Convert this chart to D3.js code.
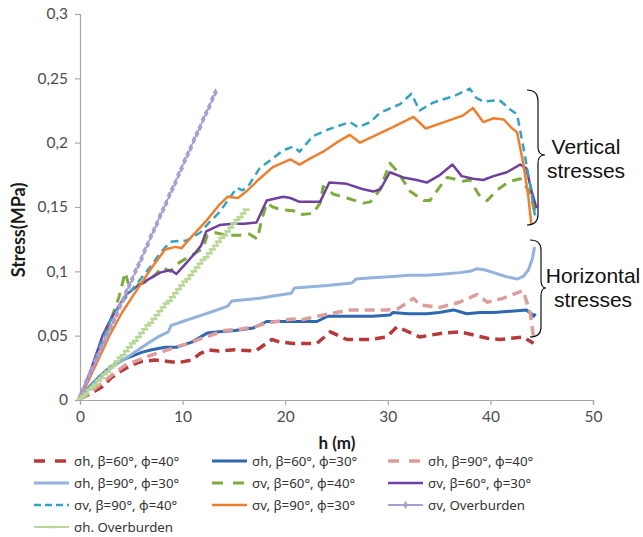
<!DOCTYPE html>
<html>
<head>
<meta charset="utf-8">
<script src="https://cdn.jsdelivr.net/npm/d3@7"></script>
<style>
  body { margin: 0; background: #fff; }
</style>
</head>
<body>
<div id="chart"></div>
<script>
// Stress vs h chart: horizontal / vertical stresses for several beta / phi cases

const hTicks = [0, 10, 20, 30, 40, 50];
const stressTicks = [0, 0.05, 0.1, 0.15, 0.2, 0.25, 0.3];

const seriesNames = [
  "σh, β=60°, ϕ=40°", "σh, β=60°, ϕ=30°", "σh, β=90°, ϕ=40°",
  "σh, β=90°, ϕ=30°", "σv, β=60°, ϕ=40°", "σv, β=60°, ϕ=30°",
  "σv, β=90°, ϕ=40°", "σv, β=90°, ϕ=30°", "σv, Overburden",
  "σh. Overburden"
];

// [h (m), stress (MPa)]
const shB60F40 = [[0,0.001],[0.8,0.004],[2.1,0.010],[3,0.017],[4.1,0.023],[5,0.027],[6,0.030],[7.3,0.031],[8.6,0.030],[9.5,0.029],[10.9,0.031],[11.7,0.036],[12.5,0.039],[13.5,0.038],[15.1,0.039],[17.1,0.038],[18.7,0.047],[19.5,0.045],[20.8,0.044],[23.1,0.044],[24.4,0.053],[26,0.047],[28.3,0.047],[29.9,0.049],[30.9,0.057],[33.1,0.049],[35.4,0.052],[37,0.053],[39.7,0.048],[40.9,0.047],[43.2,0.049],[44,0.045],[44.2,0.044]];
const shB60F30 = [[0,0.002],[1,0.011],[2,0.019],[3,0.026],[4.4,0.032],[6,0.037],[7,0.039],[8.3,0.041],[9.4,0.041],[10.9,0.045],[12.4,0.052],[13.5,0.053],[15.1,0.054],[16.9,0.056],[18.2,0.061],[20.8,0.061],[23.1,0.061],[24.1,0.065],[26.6,0.065],[28.5,0.065],[30.2,0.066],[30.5,0.068],[32,0.067],[33.8,0.067],[35,0.068],[36.4,0.070],[37.7,0.067],[39,0.068],[40.3,0.068],[42,0.069],[43.5,0.070],[44,0.067],[44.2,0.065],[44.4,0.067]];
const shB90F40 = [[0,0.001],[0.5,0.003],[2.1,0.013],[3.2,0.020],[4.4,0.027],[5.7,0.031],[7,0.035],[8.2,0.038],[9.3,0.041],[10.6,0.044],[11.9,0.048],[14.1,0.054],[15.6,0.055],[17.1,0.057],[18.3,0.060],[20.8,0.063],[21.4,0.062],[23.7,0.066],[26.3,0.070],[29.9,0.070],[31,0.071],[32.5,0.079],[33.1,0.074],[35.1,0.072],[37,0.076],[38.7,0.082],[39.7,0.076],[41.2,0.079],[43.2,0.085],[43.9,0.067],[44.2,0.049]];
const shB90F30 = [[0,0.002],[1,0.010],[2.1,0.019],[3.2,0.026],[4.4,0.032],[5.5,0.038],[6.6,0.044],[7.6,0.049],[8.6,0.053],[8.9,0.058],[10,0.061],[11.5,0.065],[13,0.069],[14.4,0.073],[14.8,0.077],[16,0.078],[17.5,0.079],[19,0.081],[20.6,0.083],[20.9,0.087],[22.5,0.088],[24.1,0.089],[26.5,0.091],[26.9,0.094],[28.5,0.095],[30.5,0.096],[32,0.097],[33.8,0.097],[35.5,0.098],[37,0.099],[38,0.100],[38.7,0.102],[39.5,0.101],[40.3,0.099],[41.5,0.096],[42.6,0.094],[43.2,0.096],[43.7,0.101],[44.1,0.110],[44.3,0.119]];
const svB60F40 = [[0,0.002],[1,0.019],[2,0.040],[3,0.062],[3.8,0.080],[4.4,0.099],[4.7,0.091],[5.5,0.089],[6.5,0.092],[7.3,0.097],[8,0.103],[8.8,0.100],[9.7,0.107],[11,0.113],[12,0.118],[12.4,0.128],[13.2,0.130],[14.3,0.128],[15.5,0.128],[16.5,0.129],[17.3,0.125],[17.7,0.140],[18.2,0.153],[18.8,0.150],[19.5,0.148],[20.8,0.147],[21.4,0.144],[22.7,0.145],[23.4,0.153],[23.7,0.166],[24.7,0.160],[26,0.157],[27.6,0.153],[28.3,0.154],[29.2,0.163],[30.2,0.184],[30.9,0.178],[32.2,0.162],[33.5,0.155],[34.1,0.155],[35.1,0.166],[35.8,0.173],[36.4,0.172],[37.3,0.170],[38,0.171],[39,0.158],[39.7,0.155],[40.6,0.163],[41.9,0.170],[42.9,0.172],[43.9,0.161],[44.2,0.150],[44.4,0.145]];
const svB60F30 = [[0,0.002],[1,0.022],[2.2,0.050],[3,0.063],[3.7,0.072],[4.5,0.082],[5.5,0.088],[6.5,0.093],[7.8,0.099],[8.8,0.101],[9.4,0.098],[10.2,0.105],[11.3,0.115],[11.8,0.120],[12.3,0.131],[13.6,0.136],[14.9,0.137],[16,0.137],[17.2,0.138],[18.2,0.155],[19.8,0.158],[20.5,0.157],[21.4,0.154],[22.5,0.154],[23.4,0.154],[24.3,0.169],[26,0.168],[27.5,0.164],[28.6,0.162],[29.3,0.164],[30.2,0.177],[31.5,0.173],[32.8,0.171],[33.8,0.169],[35.1,0.175],[36.3,0.183],[37.2,0.174],[38.3,0.172],[39.3,0.171],[40.3,0.174],[41.6,0.177],[42.9,0.183],[43.5,0.180],[44,0.163],[44.5,0.149]];
const svB90F40 = [[0,0.002],[1,0.021],[2,0.043],[3,0.062],[4,0.075],[4.6,0.081],[5.9,0.094],[7,0.105],[7.8,0.114],[8.8,0.123],[10.4,0.124],[11.7,0.130],[12.6,0.138],[13.6,0.146],[15.3,0.165],[15.8,0.163],[16.3,0.165],[17.5,0.180],[19.8,0.194],[20.8,0.197],[21.4,0.193],[22.7,0.205],[24.1,0.210],[26.3,0.216],[27.1,0.212],[28.3,0.216],[29.2,0.223],[31.2,0.230],[32.3,0.238],[33.1,0.225],[34.4,0.231],[35.1,0.233],[36.4,0.236],[38,0.242],[38.6,0.235],[39.3,0.232],[40.9,0.233],[41.9,0.226],[42.6,0.222],[43.2,0.197],[43.9,0.166],[44.3,0.145],[44.5,0.140]];
const svB90F30 = [[0,0.001],[1,0.018],[2,0.035],[3,0.052],[4.1,0.068],[5,0.079],[6,0.091],[7,0.103],[8.3,0.117],[9.3,0.119],[9.9,0.118],[11,0.128],[12.5,0.141],[13.5,0.151],[14.4,0.158],[15.4,0.157],[16.2,0.162],[17.5,0.172],[18.8,0.181],[20.5,0.187],[21.4,0.183],[22.5,0.188],[23.7,0.193],[25,0.200],[26.3,0.206],[27.3,0.200],[28.9,0.206],[30.5,0.212],[32.5,0.220],[33.7,0.211],[35.5,0.216],[37.3,0.221],[38.3,0.227],[39.3,0.216],[40.3,0.219],[41.3,0.218],[42,0.212],[42.6,0.208],[43.2,0.184],[43.7,0.158],[44,0.136]];

const hOverV = [0,0.3,0.6,0.9,1.2,1.5,1.8,2.1,2.4,2.7,3,3.3,3.6,3.9,4.2,4.5,4.8,5.1,5.4,5.7,6,6.3,6.6,6.9,7.2,7.5,7.8,8.1,8.4,8.7,9,9.3,9.6,9.9,10.2,10.5,10.8,11.1,11.4,11.7,12,12.3,12.6,12.9,13.2];
const svOver = [0.003,0.008,0.014,0.019,0.024,0.030,0.035,0.041,0.046,0.051,0.057,0.062,0.067,0.073,0.078,0.084,0.089,0.094,0.100,0.105,0.110,0.116,0.121,0.127,0.132,0.137,0.143,0.148,0.153,0.159,0.164,0.169,0.175,0.180,0.186,0.191,0.196,0.202,0.207,0.212,0.218,0.223,0.228,0.234,0.239];
const hOverH = [0,0.3,0.6,0.9,1.2,1.5,1.8,2.1,2.4,2.7,3,3.3,3.6,3.9,4.2,4.5,4.8,5.1,5.4,5.7,6,6.3,6.6,6.9,7.2,7.5,7.8,8.1,8.4,8.7,9,9.3,9.6,9.9,10.2,10.5,10.8,11.1,11.4,11.7,12,12.3,12.6,12.9,13.2,13.5,13.8,14.1,14.4,14.7,15,15.3,15.6,15.9,16.2];
const shOver = [0.001,0.003,0.005,0.008,0.010,0.012,0.015,0.017,0.020,0.022,0.025,0.027,0.030,0.033,0.035,0.038,0.041,0.044,0.046,0.049,0.052,0.055,0.058,0.060,0.063,0.066,0.069,0.072,0.075,0.077,0.080,0.083,0.086,0.089,0.092,0.094,0.097,0.100,0.103,0.106,0.109,0.111,0.114,0.117,0.120,0.123,0.126,0.128,0.131,0.134,0.137,0.140,0.142,0.145,0.148];

const seriesData = [shB60F40, shB60F30, shB90F40, shB90F30, svB60F40, svB60F30,
  svB90F40, svB90F30, d3.zip(hOverV, svOver), d3.zip(hOverH, shOver)];

// line styles, same order as seriesNames
const styles = [
  { color: "#b63a3b", width: 3.5, dash: "10,6", legDash: "11,10" },
  { color: "#2f68b0", width: 3, dash: null },
  { color: "#dd9d9b", width: 3.5, dash: "10,6", legDash: "11,10" },
  { color: "#94b3dc", width: 3, dash: null },
  { color: "#7eaa3e", width: 3, dash: "10,7", legDash: "11,10" },
  { color: "#7040a0", width: 2.5, dash: null },
  { color: "#35a2c2", width: 2.5, dash: "8,5", legDash: "7,4" },
  { color: "#ee7f2f", width: 2.5, dash: null },
  { color: "#ab9cd2", width: 1.5, dash: null, marker: "diamond" },
  { color: "#b6d894", width: 1.5, dash: null, marker: "dash" }
];

const width = 643, height = 537;
const svg = d3.select("#chart").append("svg")
  .attr("width", width).attr("height", height)
  .style("font-family", "Lato, 'Noto Sans', sans-serif");

const x = d3.scaleLinear().domain([0, 50]).range([80, 593]);
const y = d3.scaleLinear().domain([0, 0.3]).range([400, 14]);
const commaFmt = d3.formatLocale({ decimal: ",", thousands: ".", grouping: [3], currency: ["", ""] }).format("~g");

// axes
const xAxis = svg.append("g").attr("transform", `translate(0,${y(0)})`)
  .call(d3.axisBottom(x).tickValues(hTicks).tickSize(5).tickPadding(6).tickFormat(d3.format("d")));
const yAxis = svg.append("g").attr("transform", `translate(${x(0)},0)`)
  .call(d3.axisLeft(y).tickValues(stressTicks).tickSize(5).tickPadding(7).tickFormat(d => d === 0 ? "0" : commaFmt(d)));
[xAxis, yAxis].forEach(a => {
  a.selectAll("path, line").attr("stroke", "#a6a6a6").attr("stroke-width", 1.2);
  a.selectAll("text").attr("fill", "#4d4d4d").style("font-size", "15.5px").style("font-family", "Lato, sans-serif");
});

svg.append("text").attr("x", 337).attr("y", 449).attr("text-anchor", "middle")
  .style("font-size", "17px").style("font-weight", "bold").attr("fill", "#1a1a1a").text("h (m)");
svg.append("text").attr("transform", "translate(25,230) rotate(-90)").attr("text-anchor", "middle")
  .style("font-size", "18px").style("font-weight", "bold").attr("fill", "#1a1a1a").text("Stress(MPa)");

// series
const line = d3.line().x(d => x(d[0])).y(d => y(d[1]));
const plot = svg.append("g");
seriesData.forEach((data, i) => {
  const st = styles[i];
  plot.append("path").datum(data)
    .attr("fill", "none").attr("stroke", st.color).attr("stroke-width", st.width)
    .attr("stroke-dasharray", st.dash).attr("stroke-linejoin", "round")
    .attr("d", line);
  if (st.marker === "diamond") {
    plot.append("g").selectAll("path").data(data).join("path")
      .attr("transform", d => `translate(${x(d[0])},${y(d[1])})`)
      .attr("d", d3.symbol(d3.symbolDiamond, 20))
      .attr("fill", st.color);
  } else if (st.marker === "dash") {
    plot.append("g").selectAll("rect").data(data).join("rect")
      .attr("x", d => x(d[0]) - 3.5).attr("y", d => y(d[1]) - 1.2)
      .attr("width", 7).attr("height", 2.4)
      .attr("fill", st.color);
  }
});

// legend
const legCols = [32, 210, 386];
const legRows = [461, 483, 505, 527];
const legend = svg.append("g").style("font-family", "'Noto Sans', sans-serif");
seriesNames.forEach((name, i) => {
  const st = styles[i];
  const g = legend.append("g")
    .attr("transform", `translate(${legCols[i % 3]},${legRows[Math.floor(i / 3)]})`);
  g.append("line").attr("x1", 2).attr("x2", 37).attr("y1", 0).attr("y2", 0)
    .attr("stroke", st.color).attr("stroke-width", st.marker ? 2 : st.width)
    .attr("stroke-dasharray", st.legDash || null);
  if (st.marker === "diamond") {
    g.append("path").attr("transform", "translate(19.5,0)").attr("d", d3.symbol(d3.symbolDiamond, 20)).attr("fill", st.color);
  } else if (st.marker === "dash") {
    g.append("rect").attr("x", 16.5).attr("y", -1.2).attr("width", 6).attr("height", 2.4).attr("fill", st.color);
  }
  g.append("text").attr("x", 42).attr("y", 0).attr("dy", "0.35em")
    .style("font-size", "13.3px").attr("fill", "#333").text(name);
});

// braces and labels
const notes = svg.append("g").style("font-family", "'Liberation Sans', Arial, sans-serif");
notes.append("path")
  .attr("d", "M527,90 Q538,90 538,101 L538,147 Q538,155 545,155 Q538,155 538,163 L538,214 Q538,225 527,225")
  .attr("fill", "none").attr("stroke", "#111").attr("stroke-width", 1.2);
notes.append("path")
  .attr("d", "M530,240 Q541,240 541,250 L541,280 Q541,288 546,288 Q541,288 541,296 L541,327 Q541,337 530,337")
  .attr("fill", "none").attr("stroke", "#111").attr("stroke-width", 1.2);
[["Vertical", 586, 154], ["stresses", 586, 178], ["Horizontal", 593, 283], ["stresses", 593, 307]]
  .forEach(([t, tx, ty]) => {
    notes.append("text").attr("x", tx).attr("y", ty).attr("text-anchor", "middle")
      .style("font-size", "21px").attr("fill", "#111").text(t);
  });
</script>
</body>
</html>
